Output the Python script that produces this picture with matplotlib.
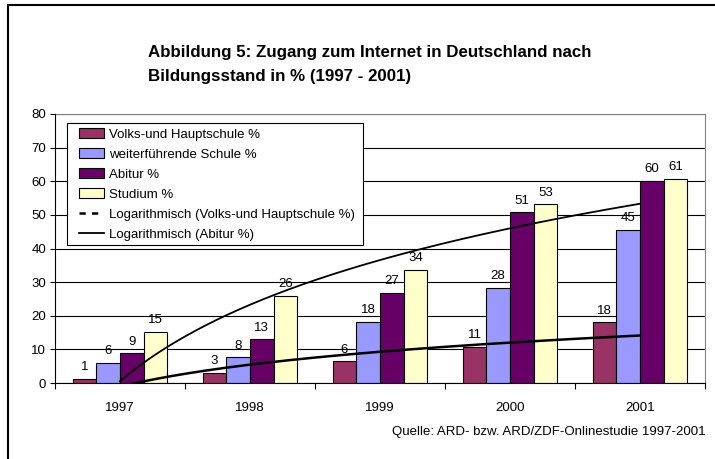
import matplotlib.pyplot as plt
import numpy as np
from matplotlib.lines import Line2D
from matplotlib.patches import Patch, Rectangle

plt.rcParams['font.family'] = ['Liberation Sans', 'DejaVu Sans']

# Werte aus der Abbildung (ARD/ZDF-Onlinestudie)
jahre = ['1997', '1998', '1999', '2000', '2001']
serien = ['Volks-und Hauptschule %', 'weiterführende Schule %', 'Abitur %', 'Studium %']
volks = [1.3, 3.1, 6.5, 10.8, 18.1]
weiter = [6.0, 7.6, 18.2, 28.4, 45.5]
abitur = [8.8, 13.0, 26.9, 50.8, 60.2]
studium = [15.3, 26.0, 33.6, 53.1, 60.7]
beschriftung = [
    [1, 3, 6, 11, 18],
    [6, 8, 18, 28, 45],
    [9, 13, 27, 51, 60],
    [15, 26, 34, 53, 61],
]
farben = ['#993366', '#9999FF', '#660066', '#FFFFCC']

fs = 9.5
fig = plt.figure(figsize=(7.15, 4.59), dpi=100)
ax = fig.add_axes([55/715, 1-383/459, 650/715, 269/459])

x = np.arange(len(jahre))
w = 1 / 5.5
for j, werte in enumerate([volks, weiter, abitur, studium]):
    bars = ax.bar(x + (j - 1.5) * w, werte, w, color=farben[j],
                  edgecolor='black', linewidth=0.8, zorder=3)
    ax.bar_label(bars, labels=[str(v) for v in beschriftung[j]],
                 padding=4, fontsize=fs)

# logarithmische Trendlinien (wie in Excel, x = 1..5)
def log_trend(werte):
    a, b = np.polyfit(np.log(x + 1), werte, 1)
    xs = np.linspace(1, 5, 200)
    return xs - 1, a * np.log(xs) + b

tx, ty = log_trend(volks)
ax.plot(tx, ty, color='black', lw=1.8, zorder=4)
tx, ty = log_trend(abitur)
ax.plot(tx, ty, color='black', lw=1.3, zorder=4)

ax.set_xlim(-0.5, 4.5)
ax.set_ylim(0, 80)
ax.set_yticks(range(0, 81, 10))
ax.set_xticks(x)
ax.set_xticklabels(jahre)
ax.set_xticks(np.arange(-0.5, 5, 1), minor=True)
ax.tick_params(axis='x', which='major', length=0, pad=14, labelsize=fs)
ax.tick_params(axis='x', which='minor', length=4, width=0.8)
ax.tick_params(axis='y', length=3.5, width=0.8, pad=3, labelsize=fs)
ax.grid(axis='y', color='black', lw=0.8, zorder=0)
ax.set_axisbelow(True)
for s in ['top', 'right']:
    ax.spines[s].set_color('#808080')
for s in ['left', 'bottom']:
    ax.spines[s].set_color('black')
    ax.spines[s].set_zorder(5)

# Legendenrahmen
box = Rectangle(((67-55)/650, (383-245)/269), (363-67)/650, (245-123)/269,
                transform=ax.transAxes, facecolor='white', edgecolor='black',
                lw=0.8, zorder=6)
ax.add_patch(box)

handles = [Patch(facecolor=c, edgecolor='black', lw=0.8) for c in farben]
handles += [Line2D([], [], color='black', lw=1.8, ls=(0, (2.5, 2.5))),
            Line2D([], [], color='black', lw=1.3)]
labels = serien + ['Logarithmisch (Volks-und Hauptschule %)', 'Logarithmisch (Abitur %)']
leg = ax.legend(handles, labels, loc='upper left',
                bbox_to_anchor=((79-55)/650, (383-128.5)/269), borderaxespad=0,
                fontsize=fs, frameon=False, handlelength=1.9, handletextpad=0.35,
                labelspacing=0.585, borderpad=0)
leg.set_zorder(7)

fig.text(148/715, 1-45.5/459,
         'Abbildung 5: Zugang zum Internet in Deutschland nach\nBildungsstand in % (1997 - 2001)',
         ha='left', va='top', fontsize=12.2, fontweight='bold', linespacing=1.68)
fig.text(706/715, 1-432/459, 'Quelle: ARD- bzw. ARD/ZDF-Onlinestudie 1997-2001',
         ha='right', va='center', fontsize=fs)

fig.patches.append(Rectangle((8/715, -0.2), 1.2, 1.2 - 5/459, transform=fig.transFigure,
                             fill=False, edgecolor='black', lw=1.5))

fig.savefig('out.png', dpi=100)
